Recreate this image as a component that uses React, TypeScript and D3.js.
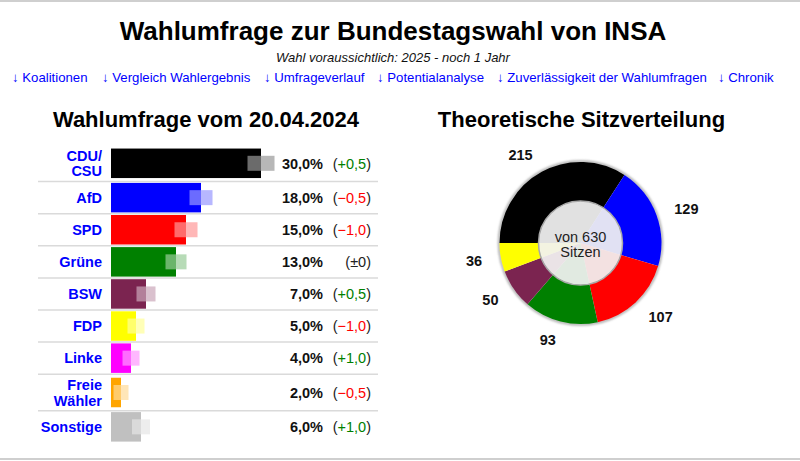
import React, { useEffect } from "react";
import * as d3 from "d3";

// poll values (INSA, 20.04.2024)
const nameLines = [["CDU/", "CSU"], ["AfD"], ["SPD"], ["Grüne"], ["BSW"], ["FDP"], ["Linke"], ["Freie", "Wähler"], ["Sonstige"]];
const values = [30, 18, 15, 13, 7, 5, 4, 2, 6];
const changes = [0.5, -0.5, -1, 0, 0.5, -1, 1, -0.5, 1];
const margins = [2.7, 2.3, 2.3, 2.1, 1.9, 1.7, 1.7, 1.5, 1.8];
const colors = ["#000000", "#0000ff", "#ff0000", "#008000", "#7b2450", "#ffff00", "#ff00ff", "#ffa500", "#c0c0c0"];

// seat distribution
const seats = [215, 129, 107, 93, 50, 36];
const seatColors = ["#000000", "#0000ff", "#ff0000", "#008000", "#7b2450", "#ffff00"];

const links = ["Koalitionen", "Vergleich Wahlergebnis", "Umfrageverlauf", "Potentialanalyse", "Zuverlässigkeit der Wahlumfragen", "Chronik"];
const linkX = [12, 102, 264, 377, 497, 718];

const FONT = "'Liberation Sans', Arial, sans-serif";

const de = d3.formatLocale({ decimal: ",", thousands: ".", grouping: [3], currency: ["", " €"], minus: "\u2212" });
const fmtPct = de.format(".1f");
const fmtChange = (v: number) => (v === 0 ? "±0" : (v > 0 ? "+" : "\u2212") + de.format(".1f")(Math.abs(v)));

export default function App() {
  useEffect(() => {
    document.body.style.margin = "0";
  }, []);

  const W = 800;
  const H = 461;

  // rows
  const singleH = 32.1;
  const doubleH = 36.6;
  let acc = 145;
  const rows = nameLines.map((lines) => {
    const h = lines.length > 1 ? doubleH : singleH;
    const r = { y0: acc, h, mid: acc + h / 2 };
    acc += h;
    return r;
  });

  const x = d3.scaleLinear().domain([0, 30]).range([111, 261]);
  const barH = 29.5;
  const ghostH = 15;

  // pie
  const cx = 580.5;
  const cy = 243;
  const outerR = 81;
  const labelR = 100;
  const pie = d3.pie<number>().sort(null).startAngle(-Math.PI / 2).endAngle((3 * Math.PI) / 2);
  const arcs = pie(seats);
  const arc = d3.arc<d3.PieArcDatum<number>>().innerRadius(0).outerRadius(outerR);
  const total = d3.sum(seats);

  return (
    <div style={{ position: "fixed", left: 0, top: 0 }}>
      <svg width={W} height={H} style={{ display: "block", fontFamily: FONT }}>
        <defs>
          <filter id="soft" x="-20%" y="-20%" width="140%" height="140%">
            <feGaussianBlur stdDeviation="0.5" />
          </filter>
          <filter id="shadow" x="-20%" y="-20%" width="140%" height="140%">
            <feGaussianBlur stdDeviation="1" />
          </filter>
        </defs>
        <rect width={W} height={H} fill="#fff" />
        <rect x={0} y={0} width={W} height={2} fill="#cfcfcf" />
        <rect x={0} y={458} width={W} height={2} fill="#cfcfcf" />

        {/* header */}
        <text x={393} y={40} textAnchor="middle" fontSize={26} fontWeight="bold" fill="#000">
          Wahlumfrage zur Bundestagswahl von INSA
        </text>
        <text x={393} y={62} textAnchor="middle" fontSize={13} fontStyle="italic" fill="#111">
          Wahl voraussichtlich: 2025 - noch 1 Jahr
        </text>
        {links.map((l, i) => (
          <text key={l} x={linkX[i]} y={82} fontSize={13.2} fill="#0000ff">
            {"↓ " + l}
          </text>
        ))}

        {/* section titles */}
        <text x={206} y={126.5} textAnchor="middle" fontSize={22} fontWeight="bold" fill="#000">
          Wahlumfrage vom 20.04.2024
        </text>
        <text x={581.5} y={126.5} textAnchor="middle" fontSize={22} fontWeight="bold" fill="#000">
          Theoretische Sitzverteilung
        </text>

        {/* separators */}
        {rows.slice(0, -1).map((r, i) => (
          <line key={"sep" + i} x1={38} x2={378} y1={r.y0 + r.h} y2={r.y0 + r.h} stroke="#dadada" strokeWidth={1.5} />
        ))}

        {/* bars */}
        {values.map((v, i) => {
          const r = rows[i];
          const m = margins[i];
          return (
            <g key={"bar" + i}>
              <rect x={x(0)} y={r.mid - barH / 2} width={x(v) - x(0)} height={barH} fill={colors[i]} />
              <rect
                x={x(v - m)}
                y={r.mid - ghostH / 2}
                width={x(v + m) - x(v - m)}
                height={ghostH}
                fill={d3.interpolateRgb(colors[i], "#ffffff")(0.6)}
                fillOpacity={0.7}
                filter="url(#soft)"
              />
            </g>
          );
        })}

        {/* party names */}
        {nameLines.map((lines, i) => {
          const r = rows[i];
          return (
            <text key={"n" + i} x={102} textAnchor="end" fontSize={14.5} fontWeight="bold" fill="#0000ff">
              {lines.map((t, j) => (
                <tspan key={j} x={102} y={r.mid + 5.2 + (lines.length > 1 ? (j - 0.5) * 15.7 : 0)}>
                  {t}
                </tspan>
              ))}
            </text>
          );
        })}

        {/* values and changes */}
        {values.map((v, i) => {
          const r = rows[i];
          const c = changes[i];
          const cCol = c > 0 ? "#008000" : c < 0 ? "#ff0000" : "#222";
          return (
            <g key={"v" + i}>
              <text x={323} y={r.mid + 5.2} textAnchor="end" fontSize={14.5} fontWeight="bold" fill="#111">
                {fmtPct(v) + "%"}
              </text>
              <text x={371} y={r.mid + 5.2} textAnchor="end" fontSize={14.5} fill="#222">
                <tspan>(</tspan>
                <tspan fill={cCol}>{fmtChange(c)}</tspan>
                <tspan>)</tspan>
              </text>
            </g>
          );
        })}

        {/* seat pie */}
        <g transform={`translate(${cx},${cy})`}>
          <circle r={outerR + 0.5} fill="none" stroke="#b0b0b0" strokeWidth={2.5} filter="url(#shadow)" />
          {arcs.map((a, i) => (
            <path key={"s" + i} d={arc(a) || ""} fill={seatColors[i]} />
          ))}
          <circle r={42} fill="#f2f2f2" fillOpacity={0.93} stroke="#a8a8a8" strokeWidth={1.5} />
          <text x={0} y={-1.5} textAnchor="middle" fontSize={14.5} fill="#222">
            {"von " + total}
          </text>
          <text x={0} y={14} textAnchor="middle" fontSize={14.5} fill="#222">
            Sitzen
          </text>
          {arcs.map((a, i) => {
            const mid = (a.startAngle + a.endAngle) / 2;
            const lx = labelR * Math.sin(mid);
            const ly = -labelR * Math.cos(mid);
            return (
              <text
                key={"l" + i}
                x={lx}
                y={ly + 5.2}
                textAnchor={lx > 0 ? "start" : "end"}
                fontSize={14.5}
                fontWeight="bold"
                fill="#111"
              >
                {a.data}
              </text>
            );
          })}
        </g>
      </svg>
    </div>
  );
}
